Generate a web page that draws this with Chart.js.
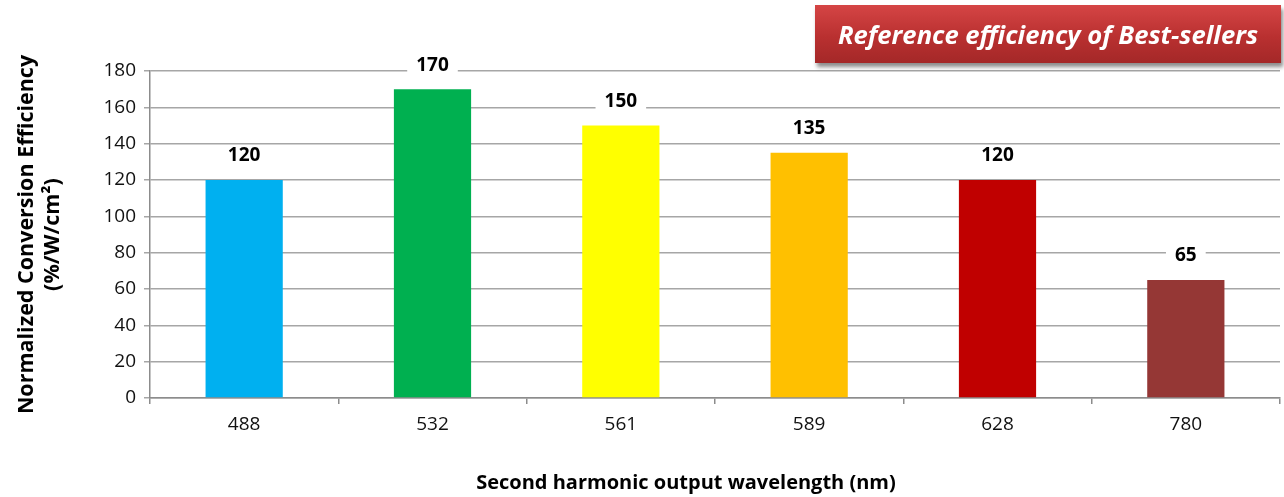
<!DOCTYPE html>
<html>
<head>
<meta charset="utf-8">
<script src="https://cdn.jsdelivr.net/npm/chart.js@4"></script>
<style>
  html, body { margin: 0; padding: 0; background: #fff; }
  #wrap { position: relative; width: 1284px; height: 497px; }
  #badge {
    position: absolute; left: 815px; top: 5px; width: 466px; height: 58px;
    background: linear-gradient(#d54545, #b93030 55%, #a42828);
    box-shadow: 2px 4px 4px rgba(0,0,0,0.45);
    color: #fff; font: italic bold 25.6px "Open Sans", sans-serif;
    display: flex; align-items: center; justify-content: center;
    z-index: 2;
  }
</style>
</head>
<body>
<div id="wrap">
  <div id="badge">Reference efficiency of Best-sellers</div>
  <canvas id="chart" width="1284" height="497"></canvas>
</div>
<script>
// wavelengths (nm) and efficiency values
const wavelengths = ['488', '532', '561', '589', '628', '780'];
const efficiency = [120, 170, 150, 135, 120, 65];
const barColors = ['#00b0f0', '#00b050', '#ffff00', '#ffc000', '#c00000', '#953735'];

const FONT = '"Open Sans", sans-serif';
const X_TITLE = 'Second harmonic output wavelength (nm)';

// value labels above the bars, on a white patch that hides the gridline,
// plus the x axis title (it sits a bit left of the plot centre in the original)
const valueLabels = {
  id: 'valueLabels',
  afterDatasetsDraw(chart) {
    const ctx = chart.ctx;
    const meta = chart.getDatasetMeta(0);
    ctx.save();
    ctx.font = 'bold 19px ' + FONT;
    ctx.textAlign = 'center';
    ctx.textBaseline = 'middle';
    meta.data.forEach((bar, i) => {
      const txt = String(efficiency[i]);
      const y = bar.y - 24;
      const w = ctx.measureText(txt).width + 18;
      ctx.fillStyle = '#fff';
      ctx.fillRect(bar.x - w / 2, y - 11, w, 22);
      ctx.fillStyle = '#000';
      ctx.fillText(txt, bar.x, y);
    });
    ctx.font = 'bold 20px ' + FONT;
    ctx.fillText(X_TITLE, chart.width / 2 + 44, chart.chartArea.bottom + 85);
    ctx.restore();
  }
};

new Chart(document.getElementById('chart'), {
  type: 'bar',
  data: {
    labels: wavelengths,
    datasets: [{
      data: efficiency,
      backgroundColor: barColors,
      categoryPercentage: 0.41,
      barPercentage: 1
    }]
  },
  options: {
    responsive: false,
    animation: false,
    layout: { padding: { top: 71, right: 4, left: 10, bottom: 0 } },
    plugins: {
      legend: { display: false },
      tooltip: { enabled: false }
    },
    scales: {
      x: {
        afterFit: (s) => { s.height = 99; },
        grid: {
          offset: true,
          drawOnChartArea: false,
          tickLength: 6,
          color: '#8c8c8c',
          lineWidth: 1.5
        },
        border: { color: '#8c8c8c', width: 1.5 },
        ticks: { color: '#111', font: { family: FONT, size: 19 }, padding: 9 }
      },
      y: {
        min: 0,
        max: 180,
        afterFit: (s) => { s.width = 140; },
        ticks: { stepSize: 20, color: '#111', font: { family: FONT, size: 19 }, padding: 8 },
        grid: { color: '#a6a6a6', lineWidth: 1.5, tickLength: 6 },
        border: { color: '#8c8c8c', width: 1.5 },
        title: {
          display: true,
          text: ['Normalized Conversion Efficiency', '(%/W/cm\u00b2)'],
          color: '#000',
          font: { family: FONT, size: 21.5, weight: 'bold', lineHeight: 1.2 },
          padding: { top: 4, bottom: 0 }
        }
      }
    }
  },
  plugins: [valueLabels]
});
</script>
</body>
</html>
